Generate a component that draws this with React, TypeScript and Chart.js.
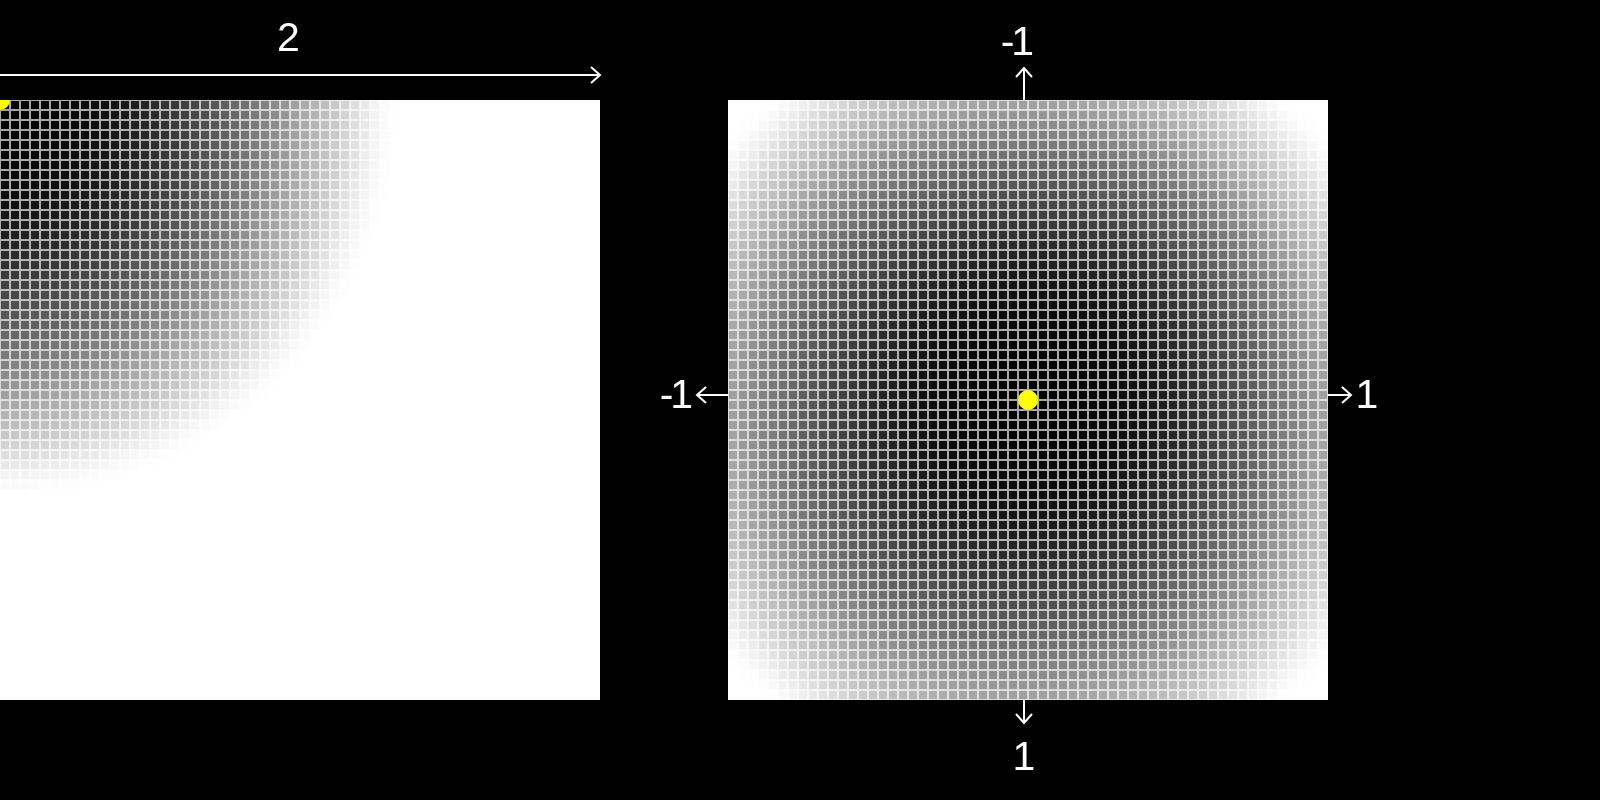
import React, { useEffect, useRef } from "react";
import { Chart, registerables } from "chart.js";

Chart.register(...registerables);

// ---------- data ----------
const CELLS_PER_SIDE = 60;
// grey level (0 = black … 255 = white), by distance from the centre in cells (0 … 40)
const RADIAL_GREY = [
  0, 0, 1, 2, 3, 4, 6, 8, 10, 12, 15, 19, 23, 28, 34, 40, 46, 53, 60, 67, 75, 83, 91, 99, 108, 117, 126,
  135, 145, 155, 165, 175, 185, 195, 205, 216, 227, 238, 247, 253, 255,
];
const LEFT_X_RANGE = [0, 2];
const LEFT_Y_RANGE = [0, 2];
const LEFT_CENTRE = [0, 0];
const RIGHT_X_RANGE = [-1, 1];
const RIGHT_Y_RANGE = [-1, 1];
const RIGHT_CENTRE = [0, 0];
const LEFT_LABELS = ["2"];
const RIGHT_LABELS = ["-1", "1", "-1", "1"]; // top, bottom, left, right
const GRID_ALPHA = 0.65;

// ---------- helpers ----------
function greyAt(d: number): number {
  const last = RADIAL_GREY.length - 1;
  if (d >= last) return 255;
  const lo = Math.floor(d);
  const t = d - lo;
  return RADIAL_GREY[lo] * (1 - t) + RADIAL_GREY[lo + 1] * t;
}

function buildCells(xr: number[], yr: number[], centre: number[]) {
  const cw = (xr[1] - xr[0]) / CELLS_PER_SIDE;
  const ch = (yr[1] - yr[0]) / CELLS_PER_SIDE;
  const pts: { x: number; y: number }[] = [];
  const fill: string[] = [];
  const line: string[] = [];
  for (let j = 0; j < CELLS_PER_SIDE; j++) {
    for (let i = 0; i < CELLS_PER_SIDE; i++) {
      const x = xr[0] + (i + 0.5) * cw;
      const y = yr[0] + (j + 0.5) * ch;
      const d = Math.hypot((x - centre[0]) / cw, (y - centre[1]) / ch);
      const g = Math.round(greyAt(d));
      const l = Math.round(g + (255 - g) * GRID_ALPHA);
      pts.push({ x, y });
      fill.push(`rgb(${g},${g},${g})`);
      line.push(`rgb(${l},${l},${l})`);
    }
  }
  return { pts, fill, line };
}

const FONT = '41px "Liberation Sans", Arial, Helvetica, sans-serif';

function inkText(ctx: CanvasRenderingContext2D, text: string, cx: number, baseline: number, spacing = 0) {
  ctx.save();
  ctx.font = FONT;
  ctx.fillStyle = "#ffffff";
  ctx.textAlign = "left";
  ctx.textBaseline = "alphabetic";
  (ctx as any).letterSpacing = `${spacing}px`;
  const m = ctx.measureText(text);
  const ox = cx - (m.actualBoundingBoxRight - m.actualBoundingBoxLeft) / 2;
  ctx.fillText(text, ox, baseline);
  ctx.restore();
}

function arrow(ctx: CanvasRenderingContext2D, x1: number, y1: number, x2: number, y2: number) {
  const a = Math.atan2(y2 - y1, x2 - x1);
  const back = 9;
  const wing = 8;
  ctx.save();
  ctx.strokeStyle = "#ffffff";
  ctx.lineWidth = 2;
  ctx.lineCap = "butt";
  ctx.lineJoin = "miter";
  ctx.beginPath();
  ctx.moveTo(x1, y1);
  ctx.lineTo(x2, y2);
  ctx.stroke();
  const bx = x2 - back * Math.cos(a);
  const by = y2 - back * Math.sin(a);
  const px = -Math.sin(a) * wing;
  const py = Math.cos(a) * wing;
  ctx.beginPath();
  ctx.moveTo(bx + px, by + py);
  ctx.lineTo(x2, y2);
  ctx.lineTo(bx - px, by - py);
  ctx.stroke();
  ctx.restore();
}

function makeConfig(
  xr: number[],
  yr: number[],
  centre: number[],
  padding: { left: number; right: number; top: number; bottom: number },
  decorate: (chart: any) => void
): any {
  const cells = buildCells(xr, yr, centre);
  return {
    type: "scatter",
    data: {
      datasets: [
        {
          data: [{ x: centre[0], y: centre[1] }],
          pointStyle: "circle",
          pointRadius: 10,
          pointHoverRadius: 10,
          pointBackgroundColor: "#ffff00",
          pointBorderWidth: 0,
          borderWidth: 0,
          showLine: false,
          order: 0,
          clip: 0,
        },
        {
          data: cells.pts,
          pointStyle: "rect",
          pointRadius: 8 / Math.SQRT2,
          pointHoverRadius: 8 / Math.SQRT2,
          pointBackgroundColor: cells.fill,
          pointBorderWidth: 0,
          borderWidth: 0,
          showLine: false,
          order: 1,
          clip: 0,
        },
        {
          data: cells.pts,
          pointStyle: "rect",
          pointRadius: 10 / Math.SQRT2,
          pointHoverRadius: 10 / Math.SQRT2,
          pointBackgroundColor: cells.line,
          pointBorderWidth: 0,
          borderWidth: 0,
          showLine: false,
          order: 2,
          clip: 0,
        },
      ],
    },
    options: {
      responsive: false,
      maintainAspectRatio: false,
      animation: false,
      events: [],
      layout: { padding, autoPadding: false },
      plugins: { legend: { display: false }, tooltip: { enabled: false }, title: { display: false } },
      scales: {
        x: { type: "linear", display: false, min: xr[0], max: xr[1] },
        y: { type: "linear", display: false, min: yr[0], max: yr[1], reverse: true },
      },
    },
    plugins: [{ id: "decor", afterDraw: (chart: any) => decorate(chart) }],
  };
}

const LEFT_W = 640;
const RIGHT_OFF = 640;
const RIGHT_W = 960;

export default function App() {
  const leftRef = useRef<HTMLCanvasElement>(null);
  const rightRef = useRef<HTMLCanvasElement>(null);

  useEffect(() => {
    document.body.style.margin = "0";
    document.body.style.background = "#000";
    const lctx = leftRef.current!.getContext("2d")!;
    const rctx = rightRef.current!.getContext("2d")!;

    const left = new Chart(
      lctx,
      makeConfig(LEFT_X_RANGE, LEFT_Y_RANGE, LEFT_CENTRE, { left: 0, right: LEFT_W - 600, top: 100, bottom: 100 }, (chart) => {
        const ctx = chart.ctx as CanvasRenderingContext2D;
        const xs = chart.scales.x;
        const area = chart.chartArea;
        arrow(ctx, xs.getPixelForValue(LEFT_X_RANGE[0]) - 10, area.top - 25, xs.getPixelForValue(LEFT_X_RANGE[1]), area.top - 25);
        inkText(ctx, LEFT_LABELS[0], 288.5, 51);
      })
    );

    const right = new Chart(
      rctx,
      makeConfig(
        RIGHT_X_RANGE,
        RIGHT_Y_RANGE,
        RIGHT_CENTRE,
        { left: 728 - RIGHT_OFF, right: RIGHT_W - (728 - RIGHT_OFF) - 600, top: 100, bottom: 100 },
        (chart) => {
          const ctx = chart.ctx as CanvasRenderingContext2D;
          const a = chart.chartArea;
          const o = RIGHT_OFF;
          // top
          arrow(ctx, 1024 - o, a.top, 1024 - o, 68);
          inkText(ctx, RIGHT_LABELS[0], 1017 - o, 55, -3);
          // bottom
          arrow(ctx, 1024 - o, a.bottom, 1024 - o, 723);
          inkText(ctx, RIGHT_LABELS[1], 1024.5 - o, 770);
          // left
          arrow(ctx, a.left, 395, 697 - o, 395);
          inkText(ctx, RIGHT_LABELS[2], 676 - o, 408, -3);
          // right
          arrow(ctx, a.right, 395, 1351 - o, 395);
          inkText(ctx, RIGHT_LABELS[3], 1367.5 - o, 408);
        }
      )
    );

    return () => {
      left.destroy();
      right.destroy();
    };
  }, []);

  return (
    <div style={{ position: "relative", width: 1600, height: 800, background: "#000", overflow: "hidden" }}>
      <canvas ref={leftRef} width={LEFT_W} height={800} style={{ position: "absolute", left: 0, top: 0, width: LEFT_W, height: 800 }} />
      <canvas
        ref={rightRef}
        width={RIGHT_W}
        height={800}
        style={{ position: "absolute", left: RIGHT_OFF, top: 0, width: RIGHT_W, height: 800 }}
      />
    </div>
  );
}
